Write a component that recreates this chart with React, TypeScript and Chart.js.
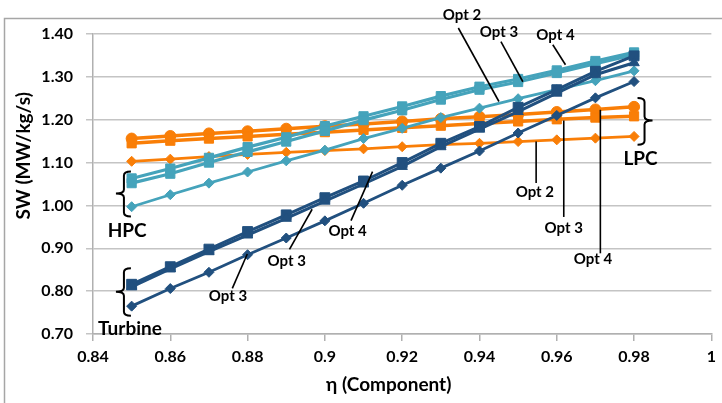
import React, { useEffect, useRef } from 'react';
import { Chart, registerables } from 'chart.js';

Chart.register(...registerables);

// ---- data ----
const etaValues = [0.85, 0.86, 0.87, 0.88, 0.89, 0.9, 0.91, 0.92, 0.93, 0.94, 0.95, 0.96, 0.97, 0.98];

const lpcOpt2 = [1.103, 1.108, 1.114, 1.119, 1.124, 1.128, 1.132, 1.137, 1.142, 1.145, 1.149, 1.153, 1.157, 1.161];
const lpcOpt3 = [1.145, 1.151, 1.156, 1.161, 1.166, 1.171, 1.176, 1.181, 1.186, 1.191, 1.196, 1.201, 1.205, 1.208];
const lpcOpt4 = [1.156, 1.162, 1.168, 1.173, 1.179, 1.185, 1.190, 1.196, 1.202, 1.207, 1.212, 1.218, 1.224, 1.230];

const hpcOpt2 = [0.997, 1.025, 1.052, 1.078, 1.104, 1.129, 1.156, 1.180, 1.205, 1.227, 1.249, 1.270, 1.291, 1.314];
const hpcOpt3 = [1.052, 1.074, 1.100, 1.125, 1.149, 1.174, 1.199, 1.222, 1.247, 1.270, 1.288, 1.309, 1.331, 1.352];
const hpcOpt4 = [1.063, 1.086, 1.111, 1.136, 1.159, 1.185, 1.208, 1.231, 1.255, 1.277, 1.295, 1.315, 1.337, 1.357];

const turbOpt2 = [0.765, 0.806, 0.844, 0.885, 0.924, 0.964, 1.005, 1.047, 1.087, 1.127, 1.169, 1.210, 1.251, 1.289];
const turbOpt3 = [0.810, 0.852, 0.892, 0.931, 0.970, 1.010, 1.050, 1.091, 1.137, 1.178, 1.219, 1.262, 1.305, 1.333];
const turbOpt4 = [0.816, 0.857, 0.898, 0.939, 0.978, 1.018, 1.057, 1.100, 1.145, 1.184, 1.229, 1.270, 1.313, 1.349];

const xTickValues = [0.84, 0.86, 0.88, 0.9, 0.92, 0.94, 0.96, 0.98, 1];
const xTickLabels = ['0.84', '0.86', '0.88', '0.9', '0.92', '0.94', '0.96', '0.98', '1'];
const yTickValues = [0.7, 0.8, 0.9, 1.0, 1.1, 1.2, 1.3, 1.4];
const yTickLabels = ['0.70', '0.80', '0.90', '1.00', '1.10', '1.20', '1.30', '1.40'];

const xTitle = 'η (Component)';
const yTitle = 'SW (MW/kg/s)';

// annotation texts (data coordinates)
const noteTexts = [
  { text: 'Opt 2', x: 0.93548, y: 1.4451, size: 15 },
  { text: 'Opt 3', x: 0.94503, y: 1.4054, size: 15 },
  { text: 'Opt 4', x: 0.95966, y: 1.3984, size: 15 },
  { text: 'LPC', x: 0.98168, y: 1.1086, size: 19 },
  { text: 'Opt 2', x: 0.95432, y: 1.0299, size: 15 },
  { text: 'Opt 3', x: 0.96181, y: 0.9474, size: 15 },
  { text: 'Opt 4', x: 0.96937, y: 0.8743, size: 15 },
  { text: 'HPC', x: 0.84885, y: 0.9411, size: 19 },
  { text: 'Turbine', x: 0.84955, y: 0.7131, size: 19 },
  { text: 'Opt 3', x: 0.87492, y: 0.7893, size: 15 },
  { text: 'Opt 3', x: 0.89014, y: 0.8703, size: 15 },
  { text: 'Opt 4', x: 0.90588, y: 0.9411, size: 15 },
];

const noteLines = [
  [0.93453, 1.414, 0.94503, 1.2425],
  [0.94555, 1.382, 0.95123, 1.2886],
  [0.95897, 1.375, 0.96225, 1.3283],
  [0.95466, 1.1491, 0.95466, 1.0526],
  [0.96181, 1.1981, 0.96181, 0.9731],
  [0.97128, 1.2231, 0.97128, 0.8883],
  [0.87605, 0.8065, 0.87992, 0.8867],
  [0.89084, 0.8977, 0.8967, 0.9911],
  [0.90676, 0.9645, 0.91233, 1.079],
];

const braces = [
  { x: 0.848, top: 1.079, bottom: 0.974, mid: 1.028, dir: 1 },
  { x: 0.848, top: 0.8533, bottom: 0.7425, mid: 0.7986, dir: 1 },
  { x: 0.98271, top: 1.2505, bottom: 1.1414, mid: 1.1981, dir: -1 },
];

// axis title anchor positions (data coordinates)
const xTitlePos = { x: 0.91652, y: 0.5806 };
const yTitlePos = { y: 1.1157 };

const ORANGE = '#F97E07';
const TEAL = '#45A3BB';
const NAVY = '#21507F';
const FONT = 'Lato, "Liberation Sans", sans-serif';

const toPts = (arr: number[]) => etaValues.map((x, i) => ({ x, y: arr[i] }));

function makeSet(label: string, arr: number[], color: string, style: string, radius: number, width: number, order: number) {
  return {
    label,
    data: toPts(arr),
    borderColor: color,
    backgroundColor: color,
    pointBackgroundColor: color,
    pointBorderColor: color,
    pointStyle: style,
    pointRadius: radius,
    pointBorderWidth: 1,
    borderWidth: width,
    order,
    tension: 0,
  };
}

const annotationPlugin = {
  id: 'annotations',
  beforeDraw(chart: any) {
    const ctx = chart.ctx;
    ctx.save();
    ctx.fillStyle = '#ffffff';
    ctx.fillRect(0, 0, chart.width, chart.height);
    ctx.strokeStyle = '#a6a6a6';
    ctx.lineWidth = 1.5;
    ctx.strokeRect(4.5, 18.5, chart.width + 20, chart.height + 20);
    ctx.restore();
  },
  afterDraw(chart: any) {
    const ctx = chart.ctx;
    const xs = chart.scales.x;
    const ys = chart.scales.y;
    const px = (v: number) => xs.getPixelForValue(v);
    const py = (v: number) => ys.getPixelForValue(v);
    ctx.save();
    ctx.strokeStyle = '#000000';
    ctx.lineWidth = 1.6;
    for (const l of noteLines) {
      ctx.beginPath();
      ctx.moveTo(px(l[0]), py(l[1]));
      ctx.lineTo(px(l[2]), py(l[3]));
      ctx.stroke();
    }
    ctx.lineWidth = 2;
    for (const b of braces) {
      const x0 = px(b.x);
      const yt = py(b.top);
      const yb = py(b.bottom);
      const ym = py(b.mid);
      const d = b.dir;
      const hook = 7;
      const tick = 8;
      const r = 4;
      ctx.beginPath();
      ctx.moveTo(x0 + d * hook, yt);
      ctx.quadraticCurveTo(x0, yt, x0, yt + r);
      ctx.lineTo(x0, ym - r);
      ctx.quadraticCurveTo(x0, ym, x0 - d * tick, ym);
      ctx.quadraticCurveTo(x0, ym, x0, ym + r);
      ctx.lineTo(x0, yb - r);
      ctx.quadraticCurveTo(x0, yb, x0 + d * hook, yb);
      ctx.stroke();
    }
    ctx.fillStyle = '#000000';
    ctx.textAlign = 'center';
    ctx.textBaseline = 'middle';
    for (const t of noteTexts) {
      ctx.font = `bold ${t.size}px ${FONT}`;
      ctx.fillText(t.text, px(t.x), py(t.y));
    }
    // axis titles
    ctx.font = `bold 19px ${FONT}`;
    ctx.fillText(xTitle, px(xTitlePos.x), py(xTitlePos.y));
    ctx.save();
    ctx.translate(24, py(yTitlePos.y));
    ctx.rotate(-Math.PI / 2);
    ctx.fillText(yTitle, 0, 0);
    ctx.restore();
    ctx.restore();
  },
};

export default function App() {
  const canvasRef = useRef<HTMLCanvasElement | null>(null);

  useEffect(() => {
    document.body.style.margin = '0';
    const canvas = canvasRef.current;
    if (!canvas) return;
    const chart = new Chart(canvas, {
      type: 'line',
      data: {
        datasets: [
          makeSet('LPC Opt 2', lpcOpt2, ORANGE, 'rectRot', 5, 2.8, 3),
          makeSet('LPC Opt 3', lpcOpt3, ORANGE, 'rect', 6.5, 3.5, 3),
          makeSet('LPC Opt 4', lpcOpt4, ORANGE, 'circle', 5.5, 3.5, 3),
          makeSet('HPC Opt 2', hpcOpt2, TEAL, 'rectRot', 5, 2.8, 2),
          makeSet('HPC Opt 3', hpcOpt3, TEAL, 'rect', 6.5, 3.2, 2),
          makeSet('HPC Opt 4', hpcOpt4, TEAL, 'rect', 6.5, 3.2, 2),
          makeSet('Turbine Opt 2', turbOpt2, NAVY, 'rectRot', 5, 2.8, 1),
          makeSet('Turbine Opt 3', turbOpt3, NAVY, 'triangle', 6, 3, 1),
          makeSet('Turbine Opt 4', turbOpt4, NAVY, 'rect', 7, 3, 1),
        ] as any,
      },
      options: {
        animation: false,
        responsive: true,
        maintainAspectRatio: false,
        layout: { padding: { left: 0, right: 9, top: 34, bottom: 0 } },
        plugins: {
          legend: { display: false },
          tooltip: { enabled: false },
        },
        scales: {
          x: {
            type: 'linear',
            min: 0.84,
            max: 1,
            afterBuildTicks: (scale: any) => {
              scale.ticks = xTickValues.map((v) => ({ value: v }));
            },
            afterFit: (scale: any) => {
              scale.height = 69;
            },
            grid: {
              drawOnChartArea: false,
              drawTicks: true,
              tickLength: 7,
              color: '#b0b0b0',
              lineWidth: 1.5,
            },
            border: { display: true, color: '#b0b0b0', width: 1.5 },
            ticks: {
              padding: 6,
              color: '#000000',
              font: { family: FONT, size: 16, weight: 'bold' },
              maxRotation: 0,
              autoSkip: false,
              callback: (v: any) => {
                const i = xTickValues.findIndex((t) => Math.abs(t - Number(v)) < 1e-9);
                return i >= 0 ? xTickLabels[i] : '';
              },
            },
            title: { display: false },
          },
          y: {
            type: 'linear',
            min: 0.7,
            max: 1.4,
            afterBuildTicks: (scale: any) => {
              scale.ticks = yTickValues.map((v) => ({ value: v }));
            },
            afterFit: (scale: any) => {
              scale.width = 93;
            },
            grid: {
              drawOnChartArea: true,
              drawTicks: true,
              tickLength: 7,
              color: '#c4c4c4',
              lineWidth: 1.5,
            },
            border: { display: true, color: '#b0b0b0', width: 1.5 },
            ticks: {
              padding: 13,
              color: '#000000',
              font: { family: FONT, size: 16, weight: 'bold' },
              autoSkip: false,
              callback: (v: any) => {
                const i = yTickValues.findIndex((t) => Math.abs(t - Number(v)) < 1e-9);
                return i >= 0 ? yTickLabels[i] : '';
              },
            },
            title: { display: false },
          },
        },
      } as any,
      plugins: [annotationPlugin],
    });
    return () => chart.destroy();
  }, []);

  return (
    <div style={{ position: 'relative', width: '722px', height: '403px' }}>
      <canvas ref={canvasRef} />
    </div>
  );
}
